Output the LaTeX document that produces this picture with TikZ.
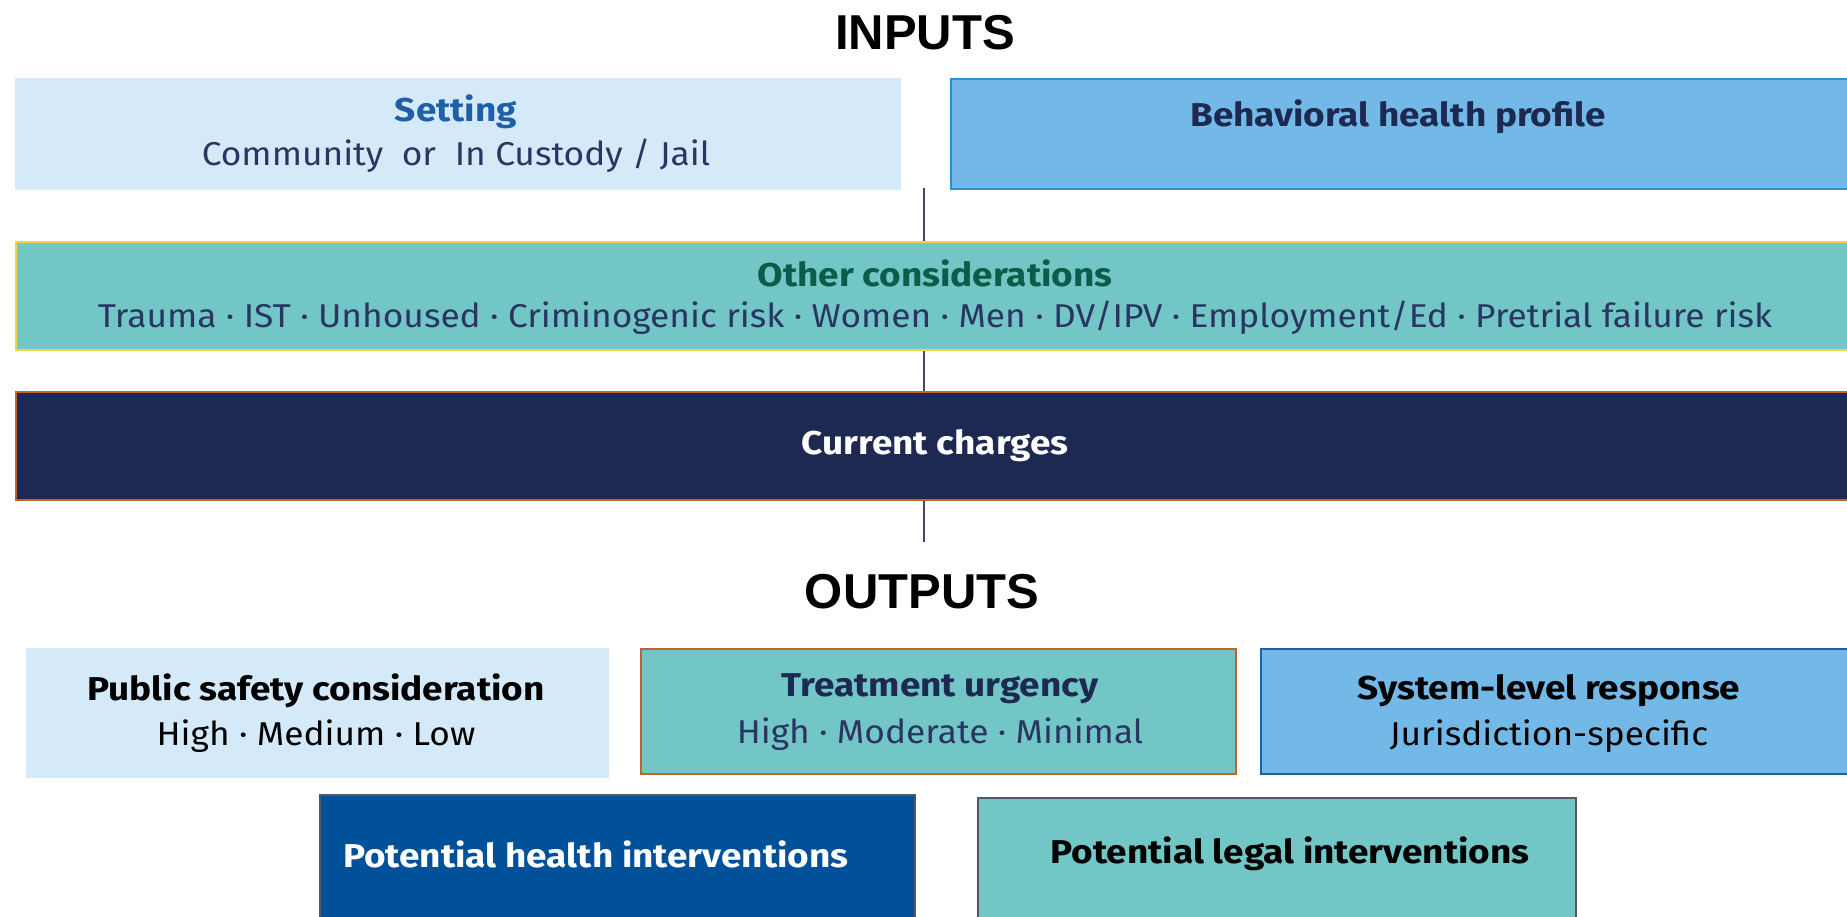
\documentclass[tikz,border=0pt]{standalone}
\usepackage{fontspec}
\setmainfont{Fira Sans}[FakeStretch=1.07, BoldFeatures={FakeStretch=1.12}]
\newfontfamily\titlefont{Liberation Sans}
\definecolor{lightbl}{HTML}{D4EAF9}
\definecolor{midbl}{HTML}{72B9E7}
\definecolor{midblbd}{HTML}{2E8FCF}
\definecolor{teal}{HTML}{72C6C6}
\definecolor{gold}{HTML}{F3D34A}
\definecolor{navy}{HTML}{1D2951}
\definecolor{rust}{HTML}{C0622A}
\definecolor{deepbl}{HTML}{00509A}
\definecolor{slate}{HTML}{3D4A66}
\definecolor{greybd}{HTML}{4F5A66}
\definecolor{settingblue}{HTML}{1F5FA8}
\definecolor{inktext}{HTML}{2A3562}
\definecolor{darkgreen}{HTML}{0D5C4A}
\begin{document}
\begin{tikzpicture}[x=1pt,y=-1pt,
  box/.style={draw, line width=1.5pt, inner sep=0pt, anchor=north west, rectangle},
  ttl/.style={font=\fontsize{33}{38}\selectfont\bfseries, inner sep=0pt, anchor=center},
  sub/.style={font=\fontsize{33}{38}\selectfont, inner sep=0pt, anchor=center},
  head/.style={font=\titlefont\fontsize{49}{55}\selectfont\bfseries, inner sep=0pt, anchor=center},
  conn/.style={draw=slate, line width=2.2pt}]
\useasboundingbox (0,0) rectangle (1847,916);
% boxes
\node[box, fill=lightbl, draw=lightbl, minimum width=884pt, minimum height=110pt] (setting) at (15,78) {};
\node[box, fill=midbl, draw=midblbd, minimum width=905pt, minimum height=110pt] (behav) at (950,78) {};
\node[box, fill=teal, draw=gold, minimum width=1840pt, minimum height=108pt] (other) at (15,241) {};
\node[box, fill=navy, draw=rust, minimum width=1840pt, minimum height=108pt] (charges) at (15,391) {};
\node[box, fill=lightbl, draw=lightbl, minimum width=581pt, minimum height=128pt] (public) at (26,648) {};
\node[box, fill=teal, draw=rust, minimum width=595pt, minimum height=125pt] (treat) at (640,648) {};
\node[box, fill=midbl, draw=settingblue, minimum width=595pt, minimum height=125pt] (system) at (1260,648) {};
\node[box, fill=deepbl, draw=greybd, minimum width=595pt, minimum height=135pt] (health) at (319,794) {};
\node[box, fill=teal, draw=greybd, minimum width=598pt, minimum height=135pt] (legal) at (977,797) {};
% titles
\node[head] (inputs) at (925,33) {INPUTS};
\node[head] (outputs) at (922,592) {OUTPUTS};
% texts
\node[ttl, text=settingblue] (settingT) at (456,112) {Setting};
\node[sub, text=inktext] (settingS) at (456,156) {Community\ \ or\ \ In Custody / Jail};
\node[ttl, text=navy] (behavT) at (1398,117) {Behavioral health profile};
\node[ttl, text=darkgreen] (otherT) at (935,273) {Other considerations};
\node[sub, text=inktext] (otherS) at (935,318) {Trauma · IST · Unhoused · Criminogenic risk · Women · Men · DV/IPV · Employment/Ed · Pretrial failure risk};
\node[ttl, text=white] (chargesT) at (935,446) {Current charges};
\node[ttl, text=black] (publicT) at (316,691) {Public safety consideration};
\node[sub, text=black] (publicS) at (316,736) {High · Medium · Low};
\node[ttl, text=navy] (treatT) at (940,689) {Treatment urgency};
\node[sub, text=inktext] (treatS) at (940,734) {High · Moderate · Minimal};
\node[ttl, text=black] (systemT) at (1549,691) {System-level response};
\node[sub, text=black] (systemS) at (1549,736) {Jurisdiction-specific};
\node[ttl, text=white, anchor=west] (healthT) at (343,854) {Potential health interventions};
\node[ttl, text=black] (legalT) at (1290,854) {Potential legal interventions};
% connectors
\coordinate (c1) at (924,188);
\coordinate (c4) at (924,542);
\draw[conn] (c1) -- (other.north -| c1);
\draw[conn] (other.south -| c1) -- (charges.north -| c1);
\draw[conn] (charges.south -| c1) -- (c4);
\end{tikzpicture}
\end{document}
